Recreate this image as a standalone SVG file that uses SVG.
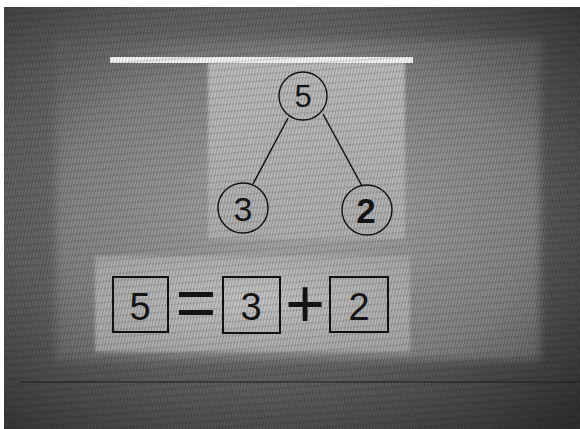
<svg xmlns="http://www.w3.org/2000/svg" width="580" height="429" viewBox="0 0 580 429">
<defs>
<radialGradient id="bg" cx="0.45" cy="0.45" r="0.75">
<stop offset="0" stop-color="#909090"/>
<stop offset="0.6" stop-color="#606060"/>
<stop offset="1" stop-color="#303030"/>
</radialGradient>
<radialGradient id="board" cx="0.5" cy="0.55" r="0.7">
<stop offset="0" stop-color="#acacac"/>
<stop offset="0.7" stop-color="#858585"/>
<stop offset="1" stop-color="#606060"/>
</radialGradient>
<radialGradient id="eqp" cx="0.5" cy="0.45" r="0.7">
<stop offset="0" stop-color="#c6c6c6"/>
<stop offset="1" stop-color="#a6a6a6"/>
</radialGradient>
<linearGradient id="tree" x1="0" y1="0" x2="0" y2="1">
<stop offset="0" stop-color="#bdbdbd"/>
<stop offset="1" stop-color="#b2b2b2"/>
</linearGradient>
<filter id="soft" x="-10%" y="-10%" width="120%" height="120%">
<feGaussianBlur stdDeviation="4"/>
</filter>
<filter id="soft2" x="-10%" y="-10%" width="120%" height="120%">
<feGaussianBlur stdDeviation="1.5"/>
</filter>
<pattern id="tex" width="3" height="3" patternUnits="userSpaceOnUse" patternTransform="rotate(12)">
<rect width="1" height="3" fill="#000"/>
</pattern>
<pattern id="tex2" width="7" height="7" patternUnits="userSpaceOnUse" patternTransform="rotate(-4)">
<rect width="7" height="2" fill="#000"/>
</pattern>
</defs>
<style>
.node circle{fill:none;stroke:#111;stroke-width:1.4}
.node rect{fill:none;stroke:#111;stroke-width:2}
.num{font-family:"Liberation Sans",Arial,sans-serif;fill:#141414;text-anchor:middle}
.conn line{stroke:#111;stroke-width:1.5}
</style>
<rect width="580" height="429" fill="url(#bg)"/>
<rect x="56" y="40" width="484" height="320" fill="url(#board)" filter="url(#soft)"/>
<line x1="20" y1="382" x2="580" y2="382" stroke="#1e1e1e" stroke-width="1.2"/>
<line x1="56" y1="360" x2="540" y2="360" stroke="#3a3a3a" stroke-width="1" filter="url(#soft2)"/>
<rect x="208" y="62" width="197" height="177" fill="url(#tree)" filter="url(#soft2)"/>
<rect x="95" y="256" width="315" height="96" fill="url(#eqp)" filter="url(#soft2)"/>
<rect x="110" y="57" width="303" height="6" fill="#f6f6f6"/>
<rect width="580" height="429" fill="url(#tex)" opacity="0.18"/>
<rect width="580" height="429" fill="url(#tex2)" opacity="0.08"/>
<rect x="0" y="0" width="580" height="7" fill="#fff"/>
<rect x="0" y="0" width="4" height="429" fill="#fff"/>
<g id="connectors" class="conn">
<line x1="288" y1="118" x2="253" y2="184"/>
<line x1="323" y1="114" x2="362" y2="186"/>
</g>
<g id="node-5" class="node">
<circle cx="303" cy="96" r="24"/>
<text class="num" x="303" y="107" font-size="31">5</text>
</g>
<g id="node-3" class="node">
<circle cx="243" cy="208" r="25"/>
<text class="num" x="243" y="221" font-size="34">3</text>
</g>
<g id="node-2" class="node">
<circle cx="367" cy="210" r="25"/>
<text class="num" x="366" y="223" font-size="35" font-weight="bold">2</text>
</g>
<g id="box-5" class="node">
<rect x="113" y="277" width="55" height="55"/>
<text class="num" x="140" y="320" font-size="38">5</text>
</g>
<g id="equals">
<text class="num" x="196" y="327" font-size="70">=</text>
</g>
<g id="box-3" class="node">
<rect x="223" y="277" width="57" height="56"/>
<text class="num" x="251" y="320" font-size="38">3</text>
</g>
<g id="plus">
<text class="num" x="305" y="327" font-size="68">+</text>
</g>
<g id="box-2" class="node">
<rect x="330" y="277" width="58" height="55"/>
<text class="num" x="359" y="320" font-size="38">2</text>
</g>
</svg>
